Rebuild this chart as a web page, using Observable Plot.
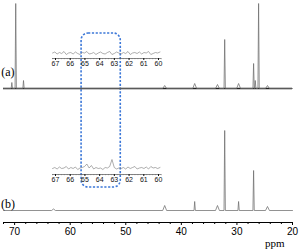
<!DOCTYPE html>
<html><head><meta charset="utf-8">
<script src="https://cdn.jsdelivr.net/npm/d3@7"></script>
<script src="https://cdn.jsdelivr.net/npm/@observablehq/plot@0.6"></script>
<style>
html,body{margin:0;padding:0;background:#fff;}
#wrap{position:relative;width:299px;height:249px;overflow:hidden;background:#fff;}
#wrap svg{position:absolute;background:transparent;}
</style></head>
<body><div id="wrap"></div>
<script>
// ---- data ----
// spectrum (a): peak positions (ppm) and heights (arbitrary units)
const aPpm    = [70.5, 69.8, 68.4, 43.0, 37.6, 33.5, 32.2, 29.7, 27.0, 26.7, 26.1, 24.5];
const aHeight = [6,    85,   8,    3,    5,    4,    49,   5,    25,   8,    85,   3];
// spectrum (b)
const bPpm    = [63.0, 43.0, 37.6, 33.5, 32.2, 29.7, 27.0, 24.5];
const bHeight = [1.5,  5,    9,    5,    80,   9,    40,   4];
// main axis ticks
const majorTicks = [70, 60, 50, 40, 30, 20];
const minorTicks = [72, 68, 66, 64, 62, 58, 56, 54, 52, 48, 46, 44, 42, 38, 36, 34, 32, 28, 26, 24, 22];
// insets (expanded 67-60 ppm region)
const insetTicks = [67, 66, 65, 64, 63, 62, 61, 60];
const insetA = [0.5,1.5,-0.5,1,0,2,-1,0.5,1,-0.5,1.5,0,-1,1,0.5,2,-0.5,0,1,-1,0.5,1.5,0,-0.5,1,2,-1,0,1.5,0.5,-0.5,1,0,2,-1,0.5,1,0,1.5,-0.5,1,0.5,2,-1,0,1,0.5,1.5];
const insetB = [0,1,-0.5,1.5,0,0.5,2,-0.5,1,0,1.5,-1,0.5,1,2,4.5,0.5,3,-0.5,1,0,0.5,-1,1,0.5,2,9,1,-0.5,0.5,0,1,-0.5,1.5,0,1,2,-0.5,0.5,1,0,1.5,-0.5,2,0.5,1,0,1];

// ---- build spectra lines from peak lists ----
function spectrum(ppm, h) {
  const pts = [{ppm: 72, v: 0}, {ppm: 20, v: 0}];
  ppm.forEach((p, i) => {
    const w = h[i] <= 5 ? 0.35 : 0.12;
    pts.push({ppm: p + w, v: 0}, {ppm: p, v: h[i]}, {ppm: p - w, v: 0});
  });
  return pts.sort((a, b) => b.ppm - a.ppm);
}
const specA = spectrum(aPpm, aHeight);
const specB = spectrum(bPpm, bHeight);
const A_BASE = 134, B_BASE = 12;

const wrap = document.getElementById("wrap");
const sans = "Liberation Sans, Arial, sans-serif";
const serif = "Liberation Serif, Times New Roman, serif";

const main = Plot.plot({
  width: 299, height: 249,
  marginLeft: 3, marginRight: 7, marginTop: 0, marginBottom: 27,
  style: {background: "transparent"},
  x: {domain: [72, 20]},
  y: {domain: [0, 222], axis: null},
  marks: [
    Plot.rect([{x1: 57.95, x2: 50.9, y1: 35, y2: 189}], {
      x1: "x1", x2: "x2", y1: "y1", y2: "y2", rx: 7,
      fill: "none", stroke: "#3d78d8", strokeWidth: 1.6, strokeDasharray: "2.2,1.6"
    }),
    Plot.ruleY([A_BASE], {x1: 72, x2: 20, stroke: "#222", strokeWidth: 1.3}),
    Plot.line(specA, {x: "ppm", y: d => d.v + A_BASE, stroke: "#6e6e6e", strokeWidth: 0.75}),
    Plot.line(specB, {x: "ppm", y: d => d.v + B_BASE, stroke: "#6e6e6e", strokeWidth: 0.75}),
    Plot.ruleY([0], {stroke: "#000", strokeWidth: 1}),
    Plot.axisX({ticks: majorTicks, tickSize: 3, tickPadding: 2, fontSize: 10, fontFamily: sans, label: null, tickFormat: d => d, color: "#000"}),
    Plot.axisX({ticks: minorTicks, tickSize: 2, label: null, tickFormat: () => ""}),
    Plot.text(["(a)"], {x: 71.2, y: 150, text: d => d, fontFamily: serif, fontSize: 12, fill: "#000"}),
    Plot.text(["(b)"], {x: 71.2, y: 18, text: d => d, fontFamily: serif, fontSize: 12, fill: "#000"}),
    Plot.text(["ppm"], {x: 23.2, y: -21, text: d => d, fontFamily: serif, fontSize: 11, fill: "#000"})
  ]
});
main.style.left = "0px"; main.style.top = "0px";
wrap.appendChild(main);

function inset(noise, base, left, top, h) {
  const n = noise.length;
  const pts = noise.map((v, i) => ({ppm: 67.2 - i * (67.2 - 59.9) / (n - 1), v}));
  const svg = Plot.plot({
    width: 125, height: h,
    marginLeft: 10, marginRight: 12, marginTop: 0, marginBottom: 12,
    style: {background: "transparent"},
    x: {domain: [67, 60]},
    y: {domain: [0, h - 12], axis: null},
    marks: [
      Plot.line(pts, {x: "ppm", y: d => d.v + base, stroke: "#777", strokeWidth: 0.6}),
      Plot.ruleY([0], {x1: 67.2, x2: 59.8, stroke: "#555", strokeWidth: 0.7}),
      Plot.axisX({ticks: d3.range(67.2, 59.7, -0.2), tickSize: 1.2, label: null, tickFormat: () => "", stroke: "#666", strokeWidth: 0.5}),
      Plot.axisX({ticks: insetTicks, tickSize: 2, tickPadding: 0.5, fontSize: 7, fontFamily: sans, label: null, tickFormat: d => d, color: "#111"})
    ]
  });
  svg.style.left = left + "px"; svg.style.top = top + "px";
  wrap.appendChild(svg);
}
inset(insetA, 5, 45, 40, 30);
inset(insetB, 6, 45, 150, 36);
</script>
</body></html>
